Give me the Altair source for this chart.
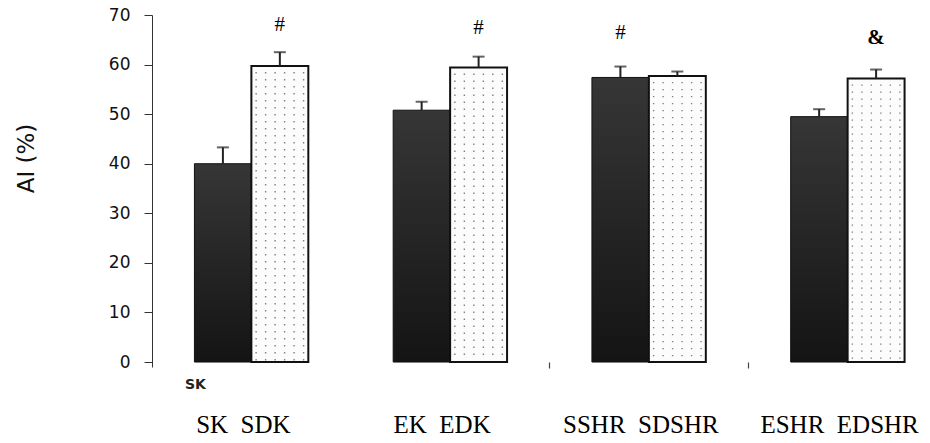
import altair as alt
import pandas as pd

# ---- data ----
left_names = ["SK", "EK", "SSHR", "ESHR"]
right_names = ["SDK", "EDK", "SDSHR", "EDSHR"]
dark_values = [40.0, 50.8, 57.4, 49.5]
dark_errors = [3.3, 1.7, 2.2, 1.5]
light_values = [59.7, 59.4, 57.7, 57.2]
light_errors = [2.8, 2.2, 0.9, 1.8]
ann_symbols = ["#", "#", "#", "&"]
ann_series = ["light", "light", "dark", "light"]
ann_y = [67.9, 67.4, 66.4, 65.4]
ann_bold = [False, False, False, True]
y_ticks = [0, 10, 20, 30, 40, 50, 60, 70]

groups = [f"{a}\u00a0\u00a0{b}" for a, b in zip(left_names, right_names)]

rows = []
for i, g in enumerate(groups):
    rows.append({"group": g, "series": "dark", "value": dark_values[i], "err": dark_errors[i]})
    rows.append({"group": g, "series": "light", "value": light_values[i], "err": light_errors[i]})
df = pd.DataFrame(rows)

ann = pd.DataFrame({"group": groups, "series": ann_series, "sym": ann_symbols,
                    "y": ann_y, "bold": ann_bold})
lab = pd.DataFrame({"group": groups})
sk = pd.DataFrame({"group": [groups[0]], "txt": ["SK"]})

xscale = alt.Scale(domain=groups, range=[0, 795], paddingInner=0, paddingOuter=0)
xoff_scale = alt.Scale(domain=["dark", "light"], paddingInner=0, paddingOuter=0.745)
yscale = alt.Scale(domain=[-1, 70], nice=False, zero=False)

x_ax = alt.Axis(values=[groups[2], groups[3]], bandPosition=0, labels=False,
                domain=False, ticks=True, tickSize=6, tickColor="#444",
                tickWidth=1.2, offset=-5, title=None, grid=False)
y_ax = alt.Axis(values=y_ticks, grid=False, domainColor="#333", tickColor="#333",
                tickSize=8, labelFont="DejaVu Sans", labelFontSize=17,
                labelColor="#111", labelPadding=14, title="AI (%)",
                titleFont="DejaVu Sans", titleFontSize=23, titleFontWeight="normal",
                titleColor="#111", titleX=-126, titleY=143, titleAngle=270,
                titleAlign="center", titleBaseline="middle")


def X(**kw):
    return alt.X("group:N", scale=xscale, axis=x_ax, **kw)


def Y(field):
    return alt.Y(field, scale=yscale, axis=y_ax)


xo = alt.XOffset("series:N", scale=xoff_scale)

base = alt.Chart(df)

dark_grad = alt.Gradient(
    gradient="linear",
    stops=[alt.GradientStop(color="#363636", offset=0),
           alt.GradientStop(color="#141414", offset=1)],
    x1=0, x2=0, y1=0, y2=1,
)

dark_bars = base.transform_filter(alt.datum.series == "dark").mark_bar(
    color=dark_grad, stroke="#111", strokeWidth=1
).encode(x=X(), xOffset=xo, y=Y("value:Q"))

light_bars = base.transform_filter(alt.datum.series == "light").mark_bar(
    color="#fcfcfc", stroke="#111", strokeWidth=2
).encode(x=X(), xOffset=xo, y=Y("value:Q"))

# dotted texture of the light bars: columns placed inside the light half of each group band
light_frac_start = 0.5
light_frac_width = 0.2866
n_cols = 6
dot_layers = []
for k in range(n_cols):
    bp = light_frac_start + (k + 0.5) * light_frac_width / n_cols
    dot_layers.append(
        base.transform_filter(alt.datum.series == "light")
        .transform_calculate(top="datum.value - 1.2")
        .mark_rule(color="#808080", strokeWidth=1.4, strokeDash=[1.4, 5.6])
        .encode(x=X(bandPosition=bp), y=Y("top:Q"), y2=alt.datum(0.3))
    )

err_rule = base.transform_calculate(top="datum.value + datum.err").mark_rule(
    color="#222", strokeWidth=2
).encode(x=X(), xOffset=xo, y=Y("value:Q"), y2="top:Q")

err_cap = base.transform_calculate(top="datum.value + datum.err").mark_tick(
    color="#222", thickness=2, size=12
).encode(x=X(), xOffset=xo, y=Y("top:Q"))

ann_layers = []
for is_bold in [False, True]:
    ann_layers.append(
        alt.Chart(ann).transform_filter(alt.datum.bold == is_bold).mark_text(
            font="Liberation Serif", fontSize=21, color="#000", baseline="middle",
            fontWeight="bold" if is_bold else "normal",
        ).encode(
            x=X(), xOffset=alt.XOffset("series:N", scale=xoff_scale),
            y=Y("y:Q"), text="sym:N",
        )
    )

group_labels = alt.Chart(lab).mark_text(
    font="Liberation Serif", fontSize=25, color="#000", baseline="middle", dx=-8
).encode(x=X(), y=alt.value(410), text="group:N")

sk_label = alt.Chart(sk).mark_text(
    font="DejaVu Sans", fontSize=14, fontWeight="bold", color="#222",
    baseline="middle", dx=-56
).encode(x=X(), y=alt.value(370), text="txt:N")

chart = alt.layer(
    dark_bars, light_bars, *dot_layers, err_rule, err_cap, *ann_layers,
    group_labels, sk_label
).properties(
    width=778, height=352,
    autosize=alt.AutoSizeParams(type="none"),
    padding={"left": 152, "top": 15, "right": 0, "bottom": 76},
    background="white",
).configure_view(stroke=None)

chart.save("out.html", embed_options={"renderer": "svg", "actions": False})
